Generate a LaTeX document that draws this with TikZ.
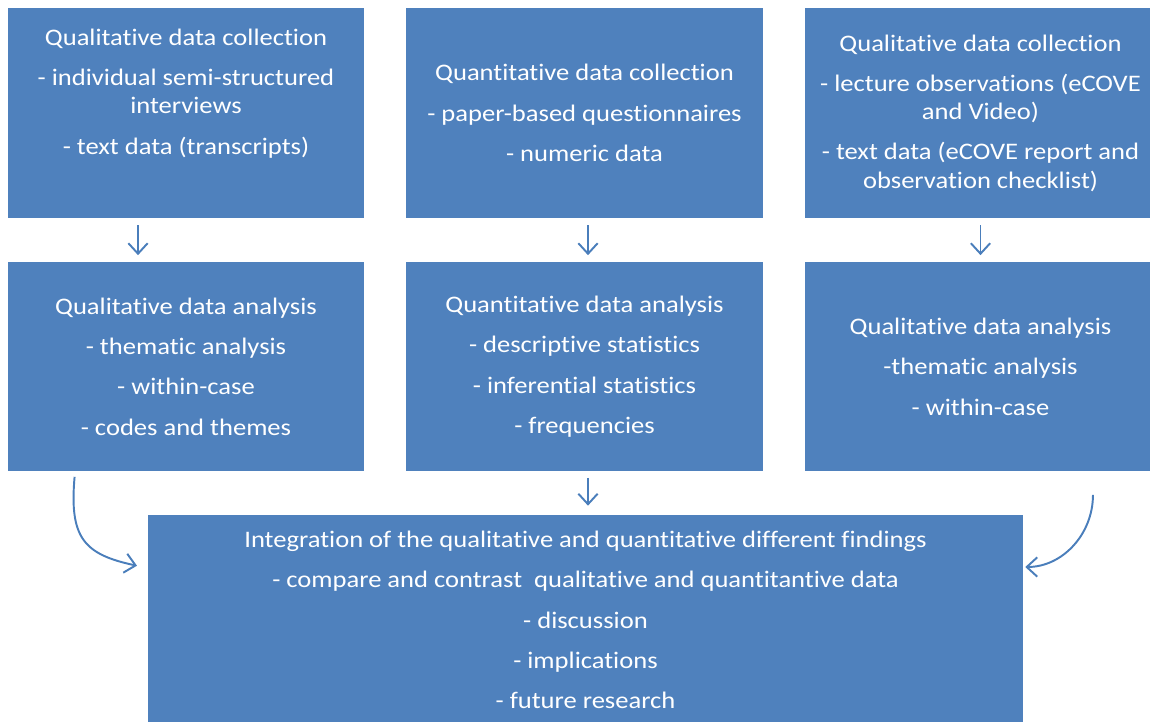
\documentclass[tikz,border=0pt]{standalone}
\usepackage{fontspec}
\setmainfont{Carlito}[FakeStretch=1.12, Ligatures=NoCommon]
\usetikzlibrary{arrows.meta}
\definecolor{boxblue}{HTML}{4F81BD}
\definecolor{arrowblue}{HTML}{4A7EBB}
\newcommand{\pgap}{7pt}
\tikzset{
  stagebox/.style={fill=boxblue, text=white, align=center, minimum height=4.2cm,
    inner sep=0pt, font=\fontsize{13.5}{16}\selectfont},
  flowarrow/.style={draw=arrowblue, line width=1.1pt,
    -{Straight Barb[length=6pt,width=11pt]}},
}

\begin{document}
\begin{tikzpicture}[x=0.02cm, y=-0.02cm]
		\path[use as bounding box, clip] (0,0) rectangle (1150,722);
		
		%%%%% top row %%%%%
		\node[stagebox, minimum width=7.12cm] (qualA1) at (186,113)
		{Qualitative data collection\\[\pgap]
		 - individual semi-structured\\interviews\\[\pgap]
		 - text data (transcripts)\\[3.6pt]\strut};
		\node[stagebox, minimum width=7.14cm] (quanB1) at (584.5,113)
		{Quantitative data collection\\[\pgap]
		 - paper-based questionnaires\\[\pgap]
		 - numeric data};
		\node[stagebox, minimum width=7.02cm] (qualC1) at (980.5,113)
		{Qualitative data collection\\[\pgap]
		 - lecture observations (eCOVE\\and Video)\\[\pgap]
		 - text data (eCOVE report and\\observation checklist)};
		
		%%%%% middle row %%%%%
		\node[stagebox, minimum width=7.12cm] (qualA2) at (186,366.5)
		{Qualitative data analysis\\[\pgap]
		 - thematic analysis\\[\pgap]
		 - within-case\\[\pgap]
		 - codes and themes};
		\node[stagebox, minimum width=7.14cm] (quanB2) at (584.5,366.5)
		{Quantitative data analysis\\[\pgap]
		 - descriptive statistics\\[\pgap]
		 - inferential statistics\\[\pgap]
		 - frequencies};
		\node[stagebox, minimum width=7.02cm] (qualC2) at (980.5,366.5)
		{Qualitative data analysis\\[\pgap]
		 -thematic analysis\\[\pgap]
		 - within-case};
		
		%%%%% bottom %%%%%
		\node[stagebox, minimum width=17.5cm] (merge) at (585.5,620)
		{Integration of the qualitative and quantitative different findings\\[\pgap]
		 - compare and contrast\ \ qualitative and quantitantive data\\[\pgap]
		 - discussion\\[\pgap]
		 - implications\\[\pgap]
		 - future research};
		
		%%%%% arrows %%%%%
		\draw[flowarrow, shorten <=0.14cm, shorten >=0.12cm]
		  ([xshift=-0.96cm]qualA1.south) -- ([xshift=-0.96cm]qualA2.north);
		\draw[flowarrow, shorten <=0.14cm, shorten >=0.12cm]
		  ([xshift=0.07cm]quanB1.south) -- ([xshift=0.07cm]quanB2.north);
		\draw[flowarrow, shorten <=0.14cm, shorten >=0.12cm]
		  (qualC1.south) -- (qualC2.north);
		\draw[flowarrow, shorten <=0.12cm, shorten >=0.18cm]
		  ([xshift=0.07cm]quanB2.south) -- ([xshift=0.07cm]quanB2.south |- merge.north);
		
		\draw[flowarrow, shorten <=0.1cm, shorten >=0.22cm]
		  ([xshift=-2.22cm]qualA2.south) to[out=-95, in=168, looseness=1.4] ([yshift=1.04cm]merge.west);
		\draw[flowarrow, shorten >=0.04cm]
		  ([xshift=2.25cm, yshift=-0.46cm]qualC2.south) to[out=-90, in=0] ([yshift=1.06cm]merge.east);
		
\end{tikzpicture}
\end{document}
